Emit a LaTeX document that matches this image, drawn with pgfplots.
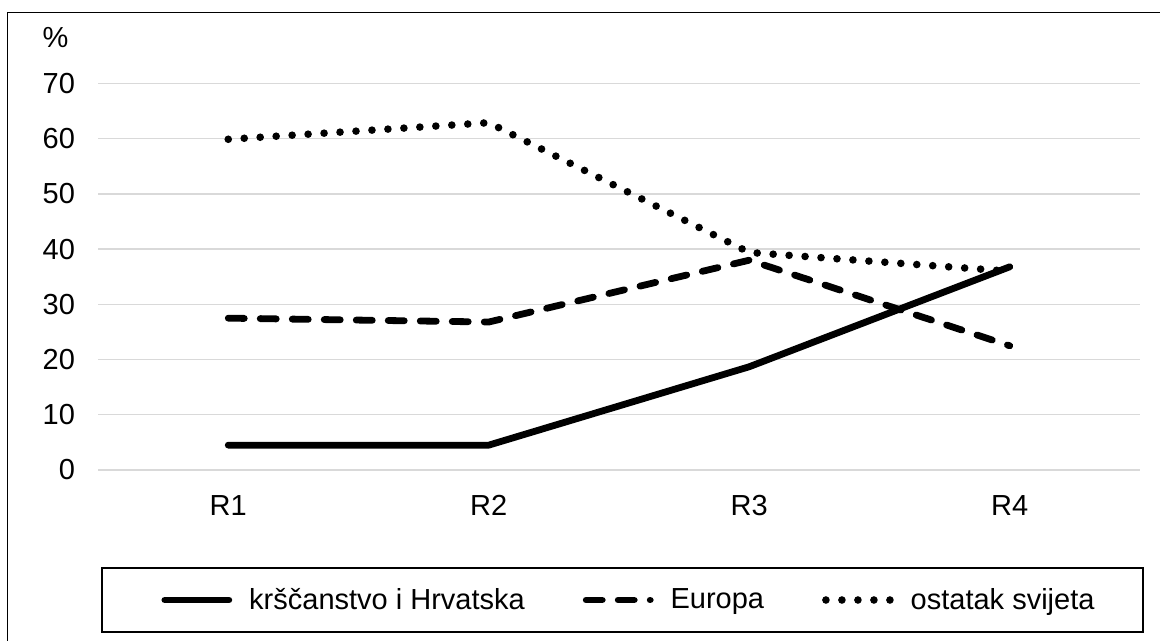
\documentclass[border=0pt]{standalone}
\usepackage{fontspec}
\setmainfont{Liberation Sans}
\usepackage{pgfplots}
\pgfplotsset{compat=1.18}
\newcommand\cf{\fontsize{14.5pt}{17pt}\selectfont}
\definecolor{gridgray}{RGB}{217,217,217}
\begin{document}
\begin{tikzpicture}
\useasboundingbox (0,0) rectangle (580pt,320.5pt);
\draw[line width=0.9pt] (3.75pt,0) -- (3.75pt,314.25pt) -- (580pt,314.25pt);
\draw[line width=0.65pt] (51pt,4.5pt) rectangle (571.5pt,36.5pt);
\node[font=\cf, inner sep=0pt] at (27.75pt,301.5pt) {\%};
\begin{axis}[
  at={(49pt,85.5pt)}, anchor=south west, scale only axis,
  width=521pt, height=193.25pt,
  xmin=0.5, xmax=4.5, ymin=0, ymax=70,
  xtick={1,2,3,4}, xticklabels={R1,R2,R3,R4},
  ytick={0,10,...,70},
  ymajorgrids, grid style={color=gridgray, line width=0.7pt},
  axis line style={draw=none}, major tick length=0pt,
  tick label style={font=\cf},
  /pgf/number format/assume math mode=true,
  x tick label style={yshift=-9pt},
  y tick label style={xshift=-8pt},
  legend columns=3,
  legend style={at={(0.0605,-0.3364)}, anchor=west, draw=none, fill=none,
    inner sep=0pt, font=\cf, nodes={inner sep=0pt},
    /tikz/every odd column/.append style={column sep=8.5pt},
    /tikz/every even column/.append style={column sep=29pt}},
  legend image code/.code={\draw[#1] (0pt,0pt) -- (32pt,0pt);},
  clip=false]
\addplot[line width=3.4pt, line cap=round, line join=round]
  coordinates {(1,4.5) (2,4.5) (3,18.7) (4,36.8)};
\addlegendentry{krščanstvo i Hrvatska}
\addplot[line width=3.4pt, line cap=round, line join=round, dash pattern=on 8pt off 8pt]
  coordinates {(1,27.5) (2,26.8) (3,38.0) (4,22.5)};
\addlegendentry{Europa}
\addplot[line width=3.8pt, line cap=round, line join=round, dash pattern=on 0pt off 8pt]
  coordinates {(1,59.9) (2,62.9) (3,39.4) (4,36.0)};
\addlegendentry{ostatak svijeta}
\end{axis}
\end{tikzpicture}
\end{document}
